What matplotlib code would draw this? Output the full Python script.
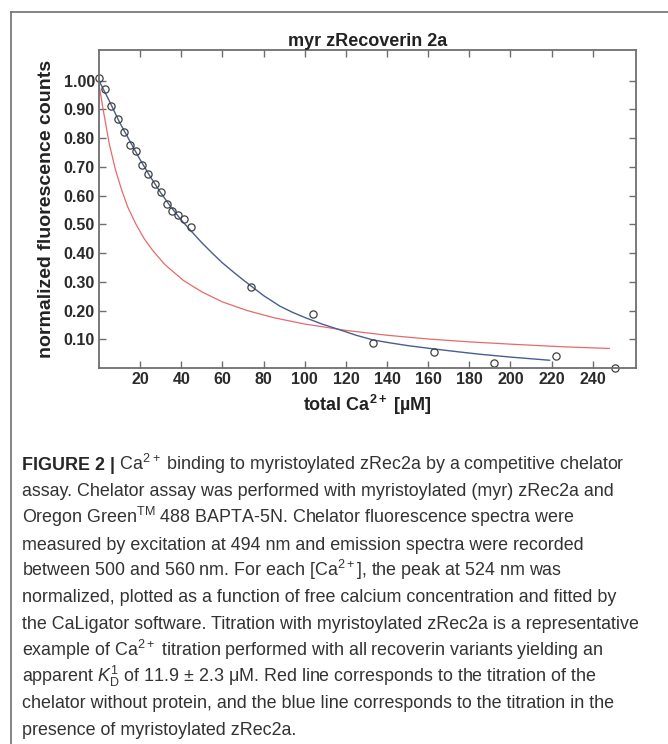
import matplotlib
matplotlib.use('Agg')
import matplotlib.pyplot as plt
from matplotlib import font_manager
from matplotlib.lines import Line2D

plt.rcParams['font.family'] = ['Liberation Sans', 'DejaVu Sans']
plt.rcParams['mathtext.fontset'] = 'custom'
plt.rcParams['mathtext.rm'] = 'Liberation Sans'
plt.rcParams['mathtext.it'] = 'Liberation Sans:italic'
plt.rcParams['mathtext.bf'] = 'Liberation Sans:bold'

# measured points (total Ca2+ in uM, normalized counts)
ca_total = [0, 3, 6, 9, 12, 15, 18, 21, 24, 27, 30, 33, 35.5, 38.5, 41.5, 44.5,
            74, 104, 133, 163, 192, 222, 251]
counts = [1.01, 0.97, 0.912, 0.867, 0.82, 0.778, 0.756, 0.707, 0.675, 0.64, 0.613,
          0.571, 0.546, 0.534, 0.517, 0.49, 0.281, 0.187, 0.088, 0.056, 0.017, 0.042, 0.0]

# blue fit (with myr zRec2a)
fit_x = [0, 5, 10, 15, 20, 25, 30, 35, 40, 45, 50, 55, 60, 65, 70, 74, 80, 88, 94, 100,
         108, 117, 125, 133, 141, 150, 162, 175, 185, 200, 219]
fit_y = [1.0, 0.93, 0.855, 0.79, 0.725, 0.665, 0.61, 0.56, 0.515, 0.475, 0.436, 0.40,
         0.366, 0.336, 0.307, 0.285, 0.252, 0.215, 0.194, 0.176, 0.154, 0.133, 0.114,
         0.098, 0.088, 0.078, 0.067, 0.056, 0.048, 0.038, 0.027]

# red curve (chelator without protein)
chel_x = [0, 1, 2, 3.5, 5, 6.5, 8, 11, 14, 18, 22, 26, 32, 41, 50, 60, 72, 85, 100,
          120, 140, 160, 180, 200, 225, 248]
chel_y = [0.985, 0.945, 0.9, 0.84, 0.78, 0.735, 0.69, 0.62, 0.56, 0.50, 0.45, 0.41,
          0.36, 0.305, 0.265, 0.23, 0.20, 0.175, 0.153, 0.131, 0.114, 0.101, 0.091,
          0.083, 0.074, 0.068]

xticks = [20, 40, 60, 80, 100, 120, 140, 160, 180, 200, 220, 240]
yticks = [0.1, 0.2, 0.3, 0.4, 0.5, 0.6, 0.7, 0.8, 0.9, 1.0]

caption = [
    " Ca$^{2+}$ binding to myristoylated zRec2a by a competitive chelator",
    "assay. Chelator assay was performed with myristoylated (myr) zRec2a and",
    "Oregon Green$^{\\mathrm{TM}}$ 488 BAPTA-5N. Chelator fluorescence spectra were",
    "measured by excitation at 494 nm and emission spectra were recorded",
    "between 500 and 560 nm. For each [Ca$^{2+}$], the peak at 524 nm was",
    "normalized, plotted as a function of free calcium concentration and fitted by",
    "the CaLigator software. Titration with myristoylated zRec2a is a representative",
    "example of Ca$^{2+}$ titration performed with all recoverin variants yielding an",
    "apparent $K_{\\mathrm{D}}^{1}$ of 11.9 \u00b1 2.3 \u03bcM. Red line corresponds to the titration of the",
    "chelator without protein, and the blue line corresponds to the titration in the",
    "presence of myristoylated zRec2a.",
]

W, H = 668, 744
fig = plt.figure(figsize=(W / 100, H / 100), dpi=100)
ax = fig.add_axes([99 / W, 1 - 368 / H, 537 / W, 318 / H])

spine_c = '#6e6e6e'
ax.plot(chel_x, chel_y, color='#e8696b', lw=0.9)
ax.plot(fit_x, fit_y, color='#4a5d8e', lw=1.0)
ax.plot(ca_total, counts, 'o', mfc='none', mec='#404040', mew=0.9, ms=5.2, clip_on=False)

ax.set_xlim(0, 261)
ax.set_ylim(0, 1.107)
ax.set_xticks(xticks, [str(t) for t in xticks], fontweight='bold')
ax.set_yticks(yticks, ['%.2f' % t for t in yticks], fontweight='bold')
ax.tick_params(direction='in', length=5, width=1, color=spine_c, top=True, right=True,
               labelsize=11.5, labelcolor='#2b2b2b', pad=3)
for s in ax.spines.values():
    s.set_color(spine_c)
    s.set_linewidth(1.3)

ax.set_title('myr zRecoverin 2a', fontsize=13, fontweight='bold', pad=3, color='#222222')
ax.set_xlabel('total Ca$^{\\mathbf{2+}}$ [\u00b5M]', fontsize=13, fontweight='bold',
              labelpad=4, color='#222222')
ax.set_ylabel('normalized fluorescence counts', fontsize=14, fontweight='bold', color='#222222')
ax.yaxis.set_label_coords(-0.082, 0.5)

# frame of the figure panel
fig.add_artist(Line2D([11 / W, 1], [1 - 12 / H, 1 - 12 / H], transform=fig.transFigure,
                      color='#707070', lw=1.2))
fig.add_artist(Line2D([11 / W, 11 / W], [0, 1 - 12 / H], transform=fig.transFigure,
                      color='#707070', lw=1.2))

# caption
names = {f.name for f in font_manager.fontManager.ttflist}
if 'Liberation Sans Narrow' in names:
    cap_font, cap_size = ['Liberation Sans Narrow', 'Liberation Sans'], 14.5
else:
    cap_font, cap_size = ['Liberation Sans', 'DejaVu Sans'], 12.9

x0 = 22 / W
renderer = fig.canvas.get_renderer()
for i, line in enumerate(caption):
    yb = 1 - (470 + i * 26.5) / H
    if i == 0:
        t = fig.text(x0, yb, 'FIGURE 2 |', family=cap_font, size=cap_size,
                     weight='bold', va='baseline', color='#262626')
        bb = t.get_window_extent(renderer)
        fig.text(bb.x1 / W, yb, line, family=cap_font, size=cap_size,
                 va='baseline', color='#333333')
    else:
        fig.text(x0, yb, line, family=cap_font, size=cap_size, va='baseline', color='#333333')

fig.savefig('out.png', dpi=100)
